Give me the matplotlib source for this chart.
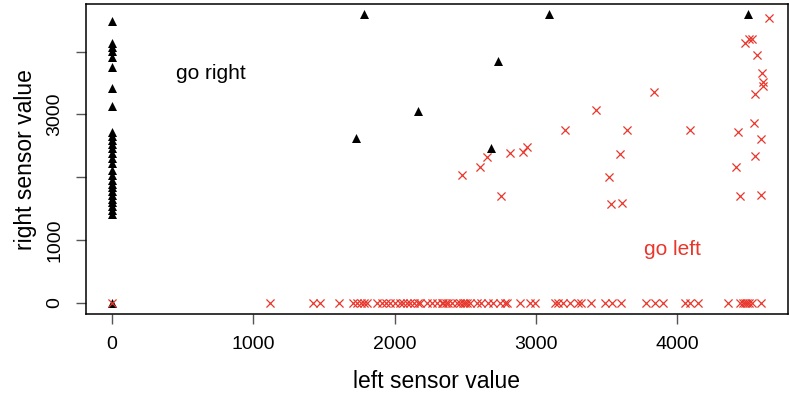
import matplotlib.pyplot as plt

plt.rcParams['font.family'] = ['Liberation Sans', 'DejaVu Sans']

# Readings where the robot decided to turn right (left sensor, right sensor)
right_left = [0] * 29 + [1783, 3093, 4501, 2732, 2166, 1727, 2682]
right_right = [0,
               4485, 4143, 4080, 4016, 3920, 3761, 3417, 3139,
               2720, 2650, 2590, 2530, 2470, 2380, 2300, 2220,
               2110, 2030, 1960, 1900, 1840, 1780, 1720, 1660,
               1600, 1540, 1480, 1420,
               4601, 4601, 4601, 3852, 3056, 2625, 2461]

# Readings where the robot decided to turn left, off the baseline
left_left = [0, 2477, 2604, 2654, 2753, 2814, 2911, 2935, 3204, 3427,
             3520, 3532, 3598, 3612, 3642, 3833, 4088, 4433, 4416, 4447,
             4544, 4593, 4548, 4591, 4551, 4597, 4604, 4609, 4565, 4482,
             4506, 4527, 4652]
left_right = [0, 2032, 2167, 2322, 1705, 2381, 2406, 2486, 2752, 3071,
              1998, 1573, 2370, 1584, 2752, 3353, 2752, 2725, 2167, 1705,
              2859, 2604, 2333, 1716, 3321, 3656, 3522, 3458, 3948, 4143,
              4207, 4207, 4537]

# Left-turn readings with the right sensor at zero
zero_left = [1118, 1422, 1472, 1607, 1706, 1734, 1762, 1783, 1805, 1875,
             1911, 1939, 1967, 2003, 2038, 2059, 2088, 2109, 2137, 2166,
             2180, 2229, 2265, 2300, 2335, 2342, 2364, 2378, 2406, 2441,
             2463, 2484, 2498, 2512, 2534, 2583, 2611, 2661, 2696, 2746,
             2781, 2795, 2887, 2958, 2994, 3135, 3157, 3192, 3241, 3298,
             3319, 3390, 3489, 3539, 3603, 3780, 3843, 3899, 4055, 4090,
             4147, 4359, 4444, 4466, 4480, 4495, 4510, 4530, 4593]

x_ticks = [0, 1000, 2000, 3000, 4000]
y_ticks = [0, 1000, 2000, 3000, 4000]
y_tick_labels = ['0', '1000', '', '3000', '']

red = '#e8372c'

fig = plt.figure(figsize=(7.89, 3.98), dpi=100)
ax = fig.add_axes([0.1084, 0.211, 0.8903, 0.778])

ax.scatter(right_left, right_right, marker='^', s=42,
           color='black', linewidths=0, zorder=2)
ax.scatter(left_left + zero_left,
           left_right + [0] * len(zero_left),
           marker='x', s=34, color=red, linewidths=0.9, zorder=3)

ax.text(700, 3660, 'go right', fontsize=15, ha='center', va='center')
ax.text(3963, 856, 'go left', fontsize=15, ha='center', va='center',
        color=red)

ax.set_xlim(-187, 4784)
ax.set_ylim(-180, 4755)

ax.set_xticks(x_ticks)
ax.set_xticklabels([str(t) for t in x_ticks])
ax.set_yticks(y_ticks)
ax.set_yticklabels(y_tick_labels, rotation=90, va='center')
ax.tick_params(axis='both', direction='out', length=7, width=1,
               color='#555555', labelsize=14, pad=9)

ax.set_xlabel('left sensor value', fontsize=16.5, labelpad=12)
ax.set_ylabel('right sensor value', fontsize=16.5, labelpad=7)

for spine in ax.spines.values():
    spine.set_linewidth(1.1)

fig.savefig('out.png', dpi=100)
